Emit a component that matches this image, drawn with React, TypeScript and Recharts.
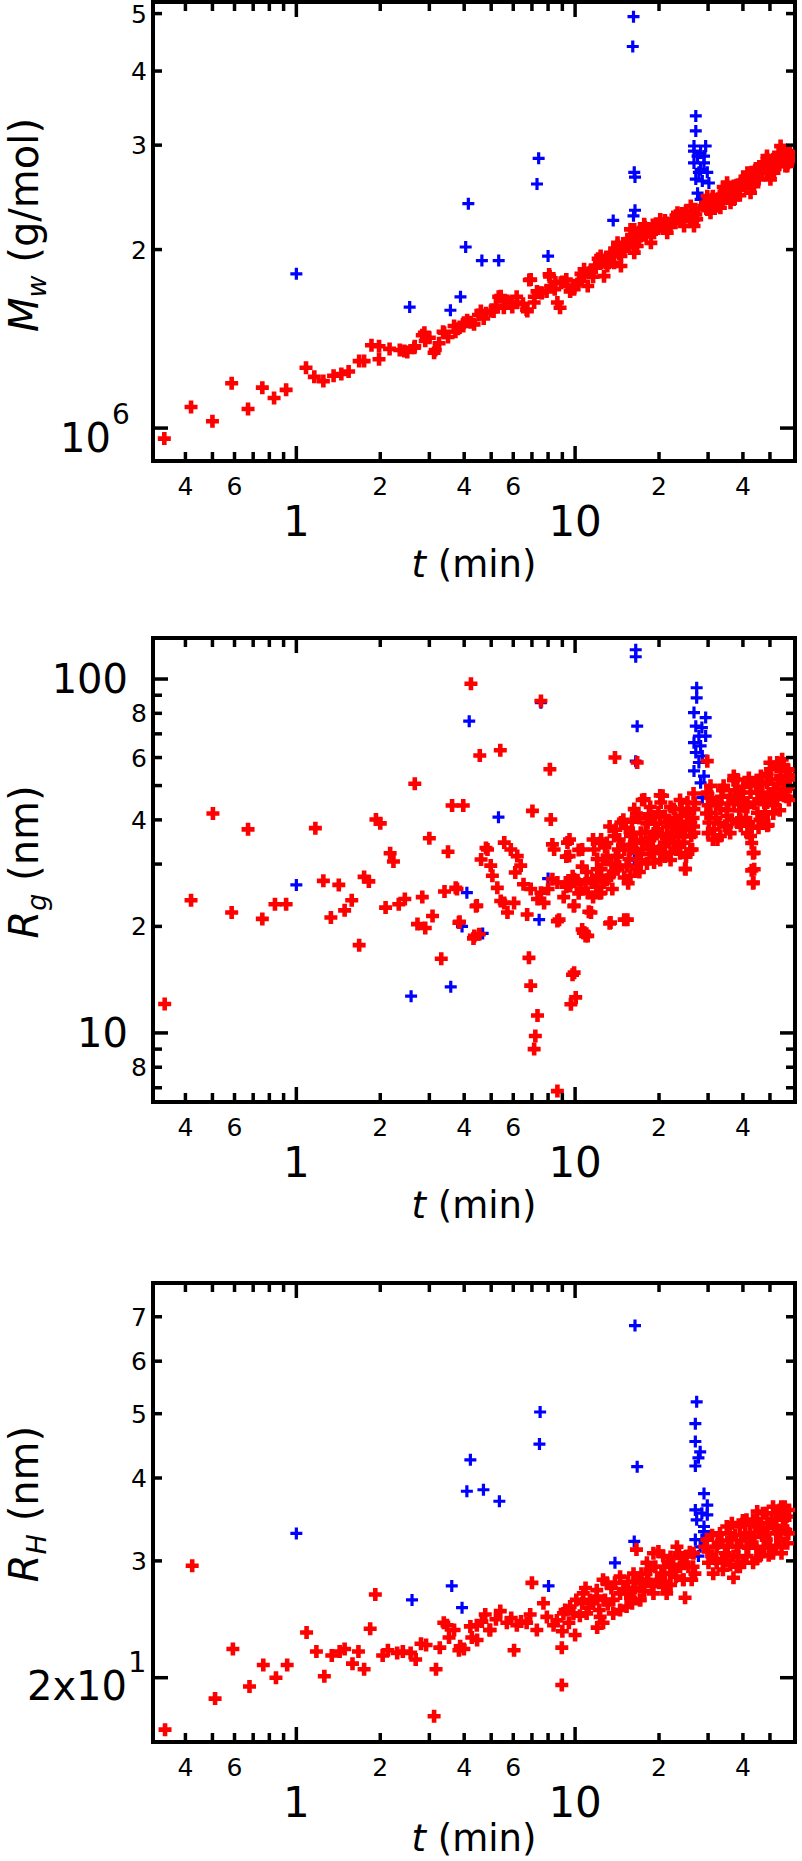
import React from 'react';
import { ScatterChart, Scatter, XAxis, YAxis } from 'recharts';

type Pt = [number, number];

// ---------- shared x axis (time, min) ----------
const xTicks = [0.4, 0.5, 0.6, 0.7, 0.8, 0.9, 1, 2, 3, 4, 5, 6, 7, 8, 9, 10, 20, 30, 40, 50];
const xMajorTicks = [1, 10];
const xSmallLabelTicks = [0.4, 0.6, 2, 4, 6, 20, 40];
const xSmallLabelText = ['4', '6', '2', '4', '6', '2', '4'];
const xDomain: [number, number] = [0.306, 61.5];

// ---------- panel 1 : Mw (in units of 10^6 g/mol) ----------
const mwTicks = [1, 2, 3, 4, 5];
const mwDomain: [number, number] = [0.88, 5.23];
const mwRed: Pt[] = [
  [0.336, 0.96], [0.419, 1.085], [0.5, 1.027], [0.586, 1.19], [0.671, 1.077], [0.755, 1.17], [0.832, 1.124], [0.919, 1.16],
  [1.083, 1.264], [1.16, 1.22], [1.25, 1.2], [1.36, 1.225], [1.45, 1.234], [1.54, 1.246], [1.68, 1.297], [1.75, 1.297],
  [1.98, 1.306], [1.86, 1.379], [1.98, 1.374], [2.16, 1.36], [2.35, 1.354], [2.5, 1.344], [2.66, 1.374], [2.83, 1.434],
  [2.9, 1.403], [3.15, 1.354], [3.36, 1.454], [3.5, 1.424], [3.72, 1.454], [3.97, 1.486], [4.22, 1.508], [4.5, 1.551],
  [4.79, 1.562], [5.1, 1.573], [5.32, 1.665], [5.55, 1.596], [5.91, 1.63], [6.17, 1.665], [6.7, 1.584], [6.85, 1.777],
  [7.14, 1.665], [7.6, 1.69], [8.1, 1.802], [8.45, 1.714], [8.83, 1.596], [9.0, 1.764], [9.8, 1.738],
  [2.44, 1.349], [2.65, 1.366], [2.88, 1.448], [3.12, 1.34], [3.39, 1.448], [3.68, 1.486], [3.99, 1.505], [4.34, 1.496],
  [4.59, 1.575], [4.99, 1.575], [5.41, 1.669], [5.72, 1.638], [6.2, 1.628], [6.74, 1.575], [7.13, 1.628], [7.54, 1.691],
  [8.18, 1.736], [8.88, 1.758], [8.64, 1.628], [9.39, 1.736], [9.92, 1.714], [6.93, 1.78], [8.07, 1.816],
  [9.6, 1.7], [9.3, 1.78], [8.5, 1.76], [7.9, 1.7], [7.3, 1.7], [6.5, 1.62], [5.95, 1.6], [5.2, 1.61],
  [4.7, 1.53], [4.1, 1.52], [3.8, 1.47], [3.25, 1.39], [3.0, 1.42],
  [10.77, 1.804], [11.4, 1.84], [12.35, 1.9], [13.4, 1.975], [13.05, 1.876], [14.2, 2.028], [14.6, 1.951], [15.4, 2.081],
  [16.3, 2.163], [17.2, 2.108], [16.7, 2.028], [18.2, 2.163], [19.2, 2.135], [20.2, 2.19], [21.3, 2.218], [22.4, 2.248],
  [23.9, 2.277], [25.3, 2.277], [26.0, 2.308], [26.7, 2.248], [27.1, 2.292],
  [10.77, 1.852], [12.35, 1.95], [14.2, 2.053], [15.8, 2.163], [17.7, 2.206], [20.2, 2.248], [23.3, 2.307], [26.0, 2.369],
  [11.1, 1.736], [12.7, 1.804], [14.6, 1.876], [16.3, 1.976], [18.7, 2.053], [21.4, 2.135], [24.6, 2.191], [26.7, 2.191],
  [10.2, 1.75], [11.8, 1.88], [12.9, 1.93], [13.8, 1.9], [15.0, 2.0], [16.0, 2.1], [17.5, 2.15], [19.0, 2.2],
  [20.8, 2.17], [22.9, 2.22], [24.2, 2.3], [25.8, 2.24], [27.3, 2.25],
  [10.33, 1.77], [11.22, 1.827], [11.86, 1.864], [12.88, 1.9], [13.61, 1.95], [14.78, 1.989], [15.61, 2.04], [16.96, 2.081],
  [17.92, 2.121], [19.46, 2.163], [20.84, 2.191], [22.33, 2.22], [24.25, 2.263], [25.98, 2.234], [26.7, 2.307],
  [10.5, 1.82], [11.6, 1.8], [12.1, 1.93], [13.2, 1.9], [13.9, 2.0], [14.4, 1.97], [15.2, 2.05], [16.1, 2.05],
  [16.9, 2.14], [17.8, 2.18], [18.5, 2.14], [19.7, 2.19], [21.0, 2.24], [22.0, 2.2], [23.0, 2.28], [24.0, 2.24],
  [25.0, 2.32], [26.4, 2.28], [27.0, 2.34],
  [29.4, 2.399], [29.8, 2.337], [31.0, 2.431], [32.4, 2.367], [33.2, 2.463], [34.6, 2.527], [36.1, 2.495], [37.1, 2.56],
  [39.3, 2.609], [40.8, 2.56], [42.6, 2.66], [43.7, 2.695], [45.5, 2.627], [47.5, 2.748], [48.8, 2.695], [50.1, 2.803],
  [51.5, 2.839], [53.0, 2.767], [54.5, 2.875], [56.0, 2.912], [57.7, 2.839], [56.8, 2.767], [53.7, 2.912], [48.8, 2.839],
  [46.3, 2.695], [29.8, 2.461], [35.1, 2.593], [41.5, 2.696], [48.8, 2.875], [54.6, 2.989], [30.6, 2.307], [36.1, 2.399],
  [42.6, 2.494], [50.2, 2.627], [57.7, 2.766], [31.5, 2.38], [33.8, 2.42], [35.5, 2.47], [38.0, 2.52], [40.0, 2.58],
  [44.0, 2.6], [46.0, 2.7], [52.0, 2.75], [55.0, 2.82], [58.5, 2.87], [59.0, 2.92], [44.5, 2.74], [39.0, 2.47], [34.0, 2.55],
  [29.0, 2.368], [30.2, 2.415], [31.9, 2.43], [33.7, 2.477], [35.6, 2.51], [37.7, 2.543], [39.8, 2.609], [42.0, 2.643],
  [44.4, 2.713], [46.9, 2.748], [49.6, 2.784], [52.4, 2.82], [55.4, 2.875], [58.5, 2.857], [57.7, 2.932], [37.1, 2.43],
  [43.8, 2.559], [51.7, 2.695], [33.2, 2.353],
  [30.0, 2.39], [31.2, 2.46], [32.8, 2.4], [34.2, 2.5], [35.8, 2.44], [36.8, 2.54], [38.5, 2.57], [40.5, 2.62],
  [41.8, 2.58], [43.0, 2.7], [45.0, 2.68], [47.0, 2.7], [48.0, 2.79], [50.5, 2.74], [52.8, 2.86], [54.0, 2.78],
  [56.5, 2.94], [59.5, 2.83], [58.0, 2.8], [45.8, 2.76],
];
const mwBlue: Pt[] = [
  [1.0, 1.82], [2.55, 1.6], [3.57, 1.58], [3.88, 1.665], [4.05, 2.02], [4.14, 2.39], [4.63, 1.916], [5.32, 1.916],
  [7.3, 2.58], [7.4, 2.85], [8.0, 1.95], [13.7, 2.24], [16.2, 4.94], [16.1, 4.4], [16.4, 2.65], [16.3, 2.7],
  [16.4, 2.33], [16.2, 2.28],
  [27.1, 3.36], [27.1, 3.17], [26.7, 2.99], [29.4, 2.99], [27.5, 2.875], [29.0, 2.8], [26.7, 2.8], [28.2, 2.73],
  [29.8, 2.7], [27.1, 2.63], [28.6, 2.61], [30.2, 2.59], [27.5, 2.49], [28.2, 2.43], [28.2, 2.91], [27.8, 2.7],
  [29.0, 2.875], [26.7, 2.93],
];

// ---------- panel 2 : Rg (nm) ----------
const rgTicks = [7, 8, 9, 10, 20, 30, 40, 50, 60, 70, 80, 90, 100];
const rgDomain: [number, number] = [6.38, 130.6];
const rgRed: Pt[] = [
  [0.337, 12.07], [0.419, 23.7], [0.502, 41.7], [0.586, 21.9], [0.671, 37.6], [0.755, 21.0], [0.838, 23.1], [0.919, 23.1],
  [1.17, 37.9], [1.25, 26.9], [1.33, 21.2], [1.42, 26.2], [1.49, 22.2], [1.58, 23.7], [1.68, 17.7], [1.75, 27.6],
  [1.82, 26.8], [1.93, 40.1], [2.0, 39.1], [2.09, 22.6], [2.17, 32.2], [2.23, 30.5], [2.33, 23.1], [2.45, 23.9],
  [2.66, 50.6], [2.72, 20.3], [2.83, 24.2], [2.9, 19.8], [3.0, 35.5], [3.08, 21.4], [3.31, 16.2], [3.4, 25.1],
  [3.5, 32.5], [3.62, 43.9], [3.77, 25.5], [3.85, 20.6], [3.97, 43.9], [4.23, 97.0], [4.41, 22.8], [4.32, 18.5],
  [4.55, 60.8], [4.79, 33.3], [5.39, 62.9],
  [3.73, 25.7], [4.44, 22.9], [4.35, 18.8], [4.53, 19.0], [3.83, 20.5], [4.6, 30.9], [4.85, 33.0], [4.98, 29.7],
  [5.05, 27.8], [5.26, 25.7], [5.57, 34.5], [5.88, 33.0], [6.2, 31.6], [6.38, 29.7], [6.1, 28.4], [5.57, 23.3],
  [5.72, 21.9], [5.41, 23.6], [6.04, 23.3], [6.53, 26.3], [6.93, 25.5], [6.73, 21.6], [7.03, 42.4], [7.54, 86.7],
  [8.12, 55.6], [8.18, 40.1], [8.29, 34.1], [8.41, 33.0], [7.33, 23.9], [7.54, 24.9], [7.74, 23.3], [8.0, 25.5],
  [8.29, 27.2], [8.64, 26.6], [8.76, 20.9], [9.39, 34.5], [9.52, 31.6], [9.26, 26.6], [9.92, 27.2], [9.92, 22.9],
  [10.5, 25.5], [10.6, 33.0], [11.1, 24.9], [11.4, 21.9], [10.8, 19.2], [11.1, 18.8], [10.6, 19.6], [6.83, 16.3],
  [6.93, 13.6], [7.33, 11.2], [7.2, 9.8], [7.13, 9.0], [9.92, 14.8], [9.79, 14.6], [10.05, 12.6], [9.66, 12.05],
  [8.64, 6.85], [8.64, 20.7], [13.4, 20.5], [15.4, 20.9], [13.9, 60.0], [16.7, 58.1], [20.6, 46.8], [24.9, 29.0],
  [29.8, 58.6], [48.9, 38.5], [43.9, 32.3], [43.9, 29.0], [43.6, 26.6], [42.6, 36.0], [42.0, 39.3],
  [11.7, 33.0], [12.4, 35.2], [13.05, 31.6], [13.8, 36.0], [14.2, 29.0], [14.6, 39.3], [15.0, 33.0], [15.4, 29.7],
  [15.8, 36.0], [16.3, 42.9], [16.7, 32.3], [17.2, 36.8], [17.7, 45.7], [18.2, 34.5], [18.7, 41.0], [19.2, 30.3],
  [19.8, 37.6], [20.3, 44.8], [20.9, 34.5], [21.4, 39.3], [22.0, 32.3], [22.6, 42.9], [23.3, 36.8], [23.9, 41.0],
  [24.6, 34.5], [25.3, 44.8], [26.0, 39.3], [26.7, 42.9], [26.3, 33.0], [12.4, 29.0], [13.3, 27.8], [14.2, 31.6],
  [15.8, 27.8], [17.2, 30.3], [16.3, 34.5], [18.2, 39.3], [19.2, 36.0], [20.3, 33.0], [21.4, 36.0], [22.6, 34.5],
  [23.9, 37.6], [25.3, 39.3], [26.7, 36.8], [12.0, 29.0], [12.7, 26.6], [11.5, 27.2], [12.4, 24.9],
  [9.3, 25.9], [9.8, 27.7], [10.3, 24.8], [10.9, 26.5], [11.6, 24.2], [11.9, 25.9], [12.3, 27.7], [12.6, 30.8],
  [13.0, 34.4], [13.3, 38.3], [13.7, 28.3], [14.0, 31.5], [14.4, 35.2], [14.9, 40.0], [15.3, 29.6], [15.7, 32.9],
  [16.1, 36.7], [16.6, 41.7], [17.1, 30.8], [17.6, 34.4], [18.1, 39.1], [18.6, 43.5], [19.1, 32.2], [19.6, 36.7],
  [20.2, 40.8], [20.8, 33.7], [21.4, 38.3], [22.0, 43.5], [22.6, 34.4], [23.1, 39.1], [23.8, 45.5], [24.5, 35.9],
  [25.2, 41.7], [25.9, 32.9], [26.6, 38.3], [26.9, 44.6], [26.6, 47.5], [12.3, 34.4], [11.6, 35.2], [9.55, 35.2],
  [9.3, 31.5], [10.3, 32.9], [17.4, 45.5], [20.2, 46.9], [24.8, 29.1], [15.5, 26.5], [9.9, 22.8], [11.2, 22.0],
  [13.3, 20.4], [15.0, 20.9], [10.7, 19.2], [10.9, 18.8], [13.0, 27.1], [14.4, 29.6], [16.6, 29.1], [22.0, 30.8],
  [23.8, 32.2], [20.2, 30.8], [18.1, 30.1], [9.1, 24.2], [12.3, 24.8],
  [12.0, 31.0], [12.8, 33.5], [13.5, 30.0], [14.0, 37.5], [14.8, 34.0], [15.2, 38.0], [15.6, 31.0], [16.0, 39.5],
  [16.5, 35.0], [17.0, 40.5], [17.4, 33.0], [17.9, 37.0], [18.4, 41.5], [18.9, 35.5], [19.4, 39.0], [19.9, 42.0],
  [20.5, 36.5], [21.0, 41.0], [21.7, 35.0], [22.3, 38.5], [22.9, 40.5], [23.5, 34.0], [24.1, 43.0], [24.8, 37.5],
  [25.5, 42.0], [26.1, 36.0], [26.5, 40.5], [25.0, 31.5], [23.0, 33.0], [21.0, 31.5], [19.0, 33.5], [17.0, 28.5],
  [15.0, 27.5], [13.6, 25.5], [11.0, 28.5], [10.2, 27.0], [9.6, 26.0], [10.6, 29.5], [14.3, 33.0], [18.5, 32.0],
  [22.0, 36.0], [24.0, 39.5],
  [29.8, 47.8], [30.6, 41.9], [31.5, 37.6], [32.4, 44.8], [33.2, 36.0], [34.1, 49.9], [35.1, 41.0], [36.1, 46.8],
  [37.1, 53.2], [38.2, 39.3], [39.3, 47.8], [40.4, 43.7], [41.5, 50.9], [45.1, 47.8], [46.4, 53.2], [47.7, 44.8],
  [48.9, 50.9], [50.2, 55.6], [51.7, 48.8], [53.1, 58.1], [54.6, 53.2], [56.1, 46.8], [57.7, 55.6], [56.9, 50.9],
  [55.3, 59.3], [48.9, 44.8], [53.1, 45.8], [30.6, 49.9], [33.2, 42.9], [37.1, 44.8], [41.5, 44.8], [45.1, 41.9],
  [38.2, 52.0], [42.6, 47.8], [46.4, 47.8], [39.3, 38.5], [32.4, 35.2], [30.2, 39.3], [58.5, 52.0],
  [29.6, 47.5], [29.6, 41.7], [30.0, 36.7], [31.2, 35.2], [32.0, 44.6], [32.9, 39.1], [33.8, 48.5], [35.0, 42.6],
  [36.0, 36.7], [37.0, 51.8], [38.1, 45.5], [39.2, 40.0], [40.1, 49.6], [41.5, 43.5], [43.0, 38.3], [43.0, 34.4],
  [43.5, 32.2], [43.0, 28.8], [43.5, 26.5], [45.0, 51.8], [46.0, 45.5], [47.4, 40.8], [48.8, 54.0], [49.3, 38.7],
  [51.4, 47.5], [52.8, 56.4], [54.2, 42.6], [55.6, 51.8], [57.3, 46.5], [58.1, 55.4], [59.0, 49.6], [35.0, 38.3],
  [39.2, 45.5], [46.0, 40.0], [51.4, 41.7], [41.5, 36.7],
  [30.0, 44.0], [31.0, 46.0], [32.0, 40.5], [33.5, 46.5], [34.5, 38.5], [35.5, 44.5], [36.5, 40.0], [37.5, 48.5],
  [38.8, 42.5], [40.0, 46.0], [41.0, 40.5], [42.0, 52.5], [44.0, 44.5], [44.5, 50.0], [45.5, 38.0], [47.0, 50.5],
  [48.0, 42.0], [49.5, 47.0], [50.5, 52.0], [52.0, 44.0], [53.5, 50.5], [55.0, 47.5], [56.0, 56.5], [57.5, 49.0],
  [58.5, 45.5], [59.0, 53.5], [54.0, 57.0], [50.0, 58.0],
];
const rgBlue: Pt[] = [
  [1.0, 26.2], [2.58, 12.7], [3.58, 13.5], [4.17, 76.0], [4.09, 24.9], [3.93, 20.0], [4.66, 19.1], [5.31, 40.7],
  [7.43, 20.9], [8.0, 27.3], [7.54, 85.7], [16.5, 121], [16.5, 115.6], [16.7, 73.6], [16.5, 58.6], [16.3, 30.8],
  [27.3, 94.5], [27.3, 88.5], [26.7, 80.4], [29.4, 77.8], [27.1, 73.6], [28.5, 72.9], [27.8, 69.0], [29.4, 69.0],
  [26.7, 66.1], [28.2, 64.7], [27.1, 62.0], [28.6, 60.6], [26.7, 55.0], [29.0, 53.2], [28.2, 50.9], [28.6, 46.2],
  [27.8, 58.1],
];

// ---------- panel 3 : RH (nm) ----------
const rhTicks = [20, 30, 40, 50, 60, 70];
const rhDomain: [number, number] = [16.0, 78.7];
const rhRed: Pt[] = [
  [0.338, 16.7], [0.423, 29.5], [0.511, 18.6], [0.592, 22.1], [0.679, 19.4], [0.761, 20.9], [0.845, 20.0], [0.927, 20.9],
  [1.088, 23.4], [1.18, 21.9], [1.26, 20.1], [1.34, 21.6], [1.43, 21.9], [1.49, 22.1], [1.59, 21.0], [1.67, 21.9],
  [1.75, 20.6], [1.84, 23.7], [1.92, 26.7], [2.04, 21.6], [2.13, 22.0], [2.3, 21.8], [2.41, 21.9], [2.57, 21.8],
  [2.68, 21.3], [2.8, 22.5], [2.92, 22.4], [3.12, 17.5], [3.17, 20.6], [3.27, 22.2], [3.38, 24.2], [3.53, 23.0],
  [3.68, 23.6], [3.83, 22.0], [3.99, 22.1], [4.26, 23.0], [4.44, 24.0], [4.63, 24.3], [4.93, 23.6], [5.39, 25.2],
  [6.04, 22.0],
  [3.47, 24.0], [3.87, 22.3], [4.21, 23.9], [4.45, 22.8], [4.76, 24.9], [4.96, 23.6], [5.69, 24.2], [6.18, 24.0],
  [6.7, 24.2], [7.0, 27.8], [7.29, 23.6], [7.7, 25.9], [7.92, 24.7], [8.96, 22.2], [8.96, 19.5], [8.37, 24.0],
  [9.08, 25.0], [9.6, 25.6], [10.1, 26.2], [10.7, 26.8], [11.0, 25.0], [11.3, 26.2], [11.96, 27.1], [12.6, 24.2],
  [12.99, 27.8], [13.7, 26.2], [14.5, 28.4], [15.3, 27.1], [16.2, 28.7], [16.6, 31.2], [17.1, 27.8], [18.1, 29.8],
  [19.1, 30.8], [20.2, 28.1], [20.7, 30.5], [21.9, 28.7], [23.2, 31.5], [23.8, 29.4], [25.1, 30.5], [24.8, 26.4],
  [26.5, 29.4], [24.5, 28.1], [21.3, 26.8], [19.1, 26.8], [17.1, 26.2], [15.3, 25.6], [13.7, 25.0], [12.3, 24.7],
  [16.2, 27.1], [18.1, 28.1], [22.5, 29.6], [5.2, 24.5], [5.9, 24.6], [6.4, 24.3], [6.9, 24.9],
  [8.6, 24.4], [9.21, 25.3], [9.86, 25.0], [10.6, 25.9], [11.2, 25.5], [11.96, 26.5], [12.8, 26.2], [13.5, 27.3],
  [14.5, 26.8], [15.5, 27.9], [16.4, 27.3], [17.3, 28.7], [18.3, 27.9], [19.4, 29.4], [20.4, 28.7], [21.6, 29.9],
  [22.8, 29.1], [24.1, 30.3], [25.5, 29.4], [26.6, 30.8], [26.9, 28.7], [14.5, 25.3], [17.1, 26.2], [20.7, 27.4],
  [24.4, 28.1], [12.6, 28.1],
  [9.0, 23.5], [9.5, 24.2], [10.4, 24.8], [10.9, 27.3], [11.6, 25.9], [12.2, 25.3], [13.1, 25.8], [13.9, 27.8],
  [14.9, 27.2], [15.8, 26.4], [16.8, 28.2], [17.7, 27.0], [18.6, 29.1], [19.7, 28.0], [20.9, 29.4], [22.0, 30.4],
  [23.0, 28.4], [24.6, 29.7], [25.8, 30.9], [26.2, 28.1], [22.0, 27.6], [18.9, 27.5], [16.0, 25.9], [12.0, 23.8],
  [10.0, 23.2], [19.9, 31.0], [23.6, 30.8], [21.0, 27.9],
  [29.7, 32.3], [30.1, 29.8], [31.3, 28.7], [32.2, 31.5], [33.1, 33.0], [34.9, 30.5], [35.9, 33.0], [37.0, 28.3],
  [38.0, 31.5], [39.0, 33.8], [41.2, 30.5], [42.3, 33.0], [43.5, 34.6], [44.7, 31.5], [45.9, 33.4], [47.2, 35.4],
  [48.5, 32.3], [49.9, 34.2], [51.3, 36.2], [52.7, 33.0], [54.2, 35.8], [55.7, 33.8], [57.3, 35.0], [55.7, 31.9],
  [51.3, 30.8], [43.5, 29.8], [38.0, 29.4], [32.2, 29.8], [37.0, 30.5], [41.2, 32.3], [47.2, 33.0], [52.7, 34.6],
  [56.5, 36.2],
  [29.2, 31.5], [30.9, 30.5], [32.6, 31.9], [34.5, 30.8], [36.4, 32.5], [38.5, 31.5], [40.7, 33.0], [43.0, 31.9],
  [45.4, 33.8], [48.0, 32.7], [50.7, 34.6], [53.6, 33.4], [56.6, 34.6], [58.2, 33.0], [54.9, 36.2], [48.6, 35.4],
  [41.2, 34.6], [35.0, 33.8], [39.0, 29.4], [46.0, 30.5], [33.9, 29.1], [52.7, 31.5], [57.7, 31.9],
  [30.0, 31.0], [31.0, 32.8], [32.0, 30.2], [33.5, 32.2], [34.0, 29.8], [35.3, 31.6], [36.0, 29.6], [37.5, 32.8],
  [38.5, 30.4], [39.5, 32.2], [40.0, 29.8], [41.8, 31.4], [42.5, 34.0], [44.0, 32.6], [44.8, 30.2], [46.5, 34.2],
  [47.5, 31.4], [49.0, 33.6], [50.0, 31.6], [51.8, 33.8], [53.0, 35.4], [54.5, 32.4], [56.0, 35.0], [57.0, 33.4],
  [58.5, 35.8], [55.0, 30.8], [49.5, 30.6], [45.0, 35.6], [40.0, 34.5], [36.5, 34.2],
];
const rhBlue: Pt[] = [
  [1.0, 33.0], [2.6, 26.2], [3.61, 27.5], [3.93, 25.5], [4.21, 42.6], [4.09, 38.2], [4.69, 38.4], [5.35, 36.9],
  [7.49, 50.3], [7.45, 45.0], [8.03, 27.5], [13.9, 29.8], [16.4, 67.9], [16.7, 41.6], [16.3, 32.1],
  [27.3, 52.1], [27.0, 48.3], [27.0, 45.4], [28.1, 43.8], [27.7, 42.9], [27.0, 41.7], [29.0, 37.9], [29.8, 36.4],
  [27.0, 35.8], [28.5, 35.4], [29.8, 35.2], [27.3, 34.6], [29.0, 33.8], [27.0, 32.3], [28.5, 32.3], [28.1, 31.5],
  [27.7, 30.5], [29.0, 33.2],
];

// ---------- layout ----------
const W = 802;
const PL = 153;
const PR = 795;
const PT = 2;
const FONT = '"DejaVu Sans", sans-serif';
const AXIS = { stroke: '#000', strokeWidth: 4, strokeLinecap: 'square' as const };

function Plus(props: any) {
  const { cx, cy, color, sw, r } = props;
  if (cx == null || cy == null || !isFinite(cx) || !isFinite(cy)) return <g />;
  return (
    <path d={`M${cx - r},${cy}H${cx + r}M${cx},${cy - r}V${cy + r}`} stroke={color} strokeWidth={sw} fill="none" />
  );
}

function XTickBottom(props: any) {
  const { x, payload, plotBottom } = props;
  const v = payload.value;
  const major = xMajorTicks.includes(v);
  const si = xSmallLabelTicks.indexOf(v);
  const len = major ? 15 : 9;
  return (
    <g>
      <line x1={x} x2={x} y1={plotBottom} y2={plotBottom - len} stroke="#000" strokeWidth={3.5} />
      {major && (
        <text x={x} y={plotBottom + 75} textAnchor="middle" fontSize={42} fill="#000" fontFamily={FONT}>
          {String(v)}
        </text>
      )}
      {si >= 0 && (
        <text x={x} y={plotBottom + 34} textAnchor="middle" fontSize={25} fill="#000" fontFamily={FONT}>
          {xSmallLabelText[si]}
        </text>
      )}
    </g>
  );
}

function XTickTop(props: any) {
  const { x, payload } = props;
  const v = payload.value;
  const len = xMajorTicks.includes(v) ? 15 : 9;
  return <line x1={x} x2={x} y1={PT} y2={PT + len} stroke="#000" strokeWidth={3.5} />;
}

function YTickLeft(props: any) {
  const { y, payload, majors, labelFn } = props;
  const v = payload.value;
  const len = majors.includes(v) ? 15 : 9;
  return (
    <g>
      <line x1={PL} x2={PL + len} y1={y} y2={y} stroke="#000" strokeWidth={3.5} />
      {labelFn(v, y)}
    </g>
  );
}

function YTickRight(props: any) {
  const { y, payload, majors } = props;
  const v = payload.value;
  const len = majors.includes(v) ? 15 : 9;
  return <line x1={PR} x2={PR - len} y1={y} y2={y} stroke="#000" strokeWidth={3.5} />;
}

const smallY = (txt: string, y: number) => (
  <text x={PL - 6} y={y + 9} textAnchor="end" fontSize={25} fill="#000" fontFamily={FONT}>
    {txt}
  </text>
);

const mwLabel = (v: number, y: number) => {
  if (v === 1) {
    return (
      <g>
        <text x={111} y={y + 24} textAnchor="end" fontSize={40} fill="#000" fontFamily={FONT}>10</text>
        <text x={112} y={y - 4} textAnchor="start" fontSize={28} fill="#000" fontFamily={FONT}>6</text>
      </g>
    );
  }
  return smallY(String(v), y);
};

const rgLabel = (v: number, y: number) => {
  if (v === 10 || v === 100) {
    return (
      <text x={128} y={y + 14} textAnchor="end" fontSize={40} fill="#000" fontFamily={FONT}>
        {String(v)}
      </text>
    );
  }
  if (v === 8) return smallY('8', y);
  if (v === 20 || v === 40 || v === 60 || v === 80) return smallY(String(v / 10), y);
  return <g />;
};

const rhLabel = (v: number, y: number) => {
  if (v === 20) {
    return (
      <g>
        <text x={127} y={y + 22} textAnchor="end" fontSize={40} fill="#000" fontFamily={FONT}>2x10</text>
        <text x={128} y={y - 6} textAnchor="start" fontSize={29} fill="#000" fontFamily={FONT}>1</text>
      </g>
    );
  }
  return smallY(String(v / 10), y);
};

type PanelProps = {
  top: number;
  height: number;
  plotBottom: number;
  yDomain: [number, number];
  yTicks: number[];
  yMajors: number[];
  labelFn: (v: number, y: number) => React.ReactNode;
  red: Pt[];
  blue: Pt[];
  scaleY: number;
};

function Panel(p: PanelProps) {
  const redData = p.red.map(([x, y]) => ({ x, y: y * p.scaleY }));
  const blueData = p.blue.map(([x, y]) => ({ x, y: y * p.scaleY }));
  const dom: [number, number] = [p.yDomain[0] * p.scaleY, p.yDomain[1] * p.scaleY];
  const ticks = p.yTicks.map((t) => t * p.scaleY);
  const majors = p.yMajors.map((t) => t * p.scaleY);
  const lf = (v: number, y: number) => p.labelFn(v / p.scaleY, y);
  return (
    <div style={{ position: 'absolute', left: 0, top: p.top, width: W, height: p.height }}>
      <ScatterChart
        width={W}
        height={p.height}
        margin={{ top: PT - 1, right: W - PR - 1, bottom: p.height - p.plotBottom - 1, left: PL - 1 }}
      >
        <XAxis
          xAxisId="b"
          type="number"
          dataKey="x"
          scale="log"
          domain={xDomain}
          allowDataOverflow
          ticks={xTicks}
          interval={0}
          height={1}
          tickSize={0}
          tickMargin={0}
          tickLine={false}
          axisLine={AXIS}
          tick={(tp: any) => <XTickBottom {...tp} plotBottom={p.plotBottom} />}
        />
        <XAxis
          xAxisId="t"
          orientation="top"
          type="number"
          dataKey="x"
          scale="log"
          domain={xDomain}
          allowDataOverflow
          ticks={xTicks}
          interval={0}
          height={1}
          tickSize={0}
          tickMargin={0}
          tickLine={false}
          axisLine={AXIS}
          tick={(tp: any) => <XTickTop {...tp} />}
        />
        <YAxis
          yAxisId="l"
          type="number"
          dataKey="y"
          scale="log"
          domain={dom}
          allowDataOverflow
          ticks={ticks}
          interval={0}
          width={1}
          tickSize={0}
          tickMargin={0}
          tickLine={false}
          axisLine={AXIS}
          tick={(tp: any) => <YTickLeft {...tp} majors={majors} labelFn={lf} />}
        />
        <YAxis
          yAxisId="r"
          orientation="right"
          type="number"
          dataKey="y"
          scale="log"
          domain={dom}
          allowDataOverflow
          ticks={ticks}
          interval={0}
          width={1}
          tickSize={0}
          tickMargin={0}
          tickLine={false}
          axisLine={AXIS}
          tick={(tp: any) => <YTickRight {...tp} majors={majors} />}
        />
        <Scatter
          xAxisId="b"
          yAxisId="l"
          data={blueData}
          isAnimationActive={false}
          shape={(sp: any) => <Plus cx={sp.cx} cy={sp.cy} color="#0000ff" sw={3.2} r={6} />}
        />
        <Scatter
          xAxisId="b"
          yAxisId="l"
          data={redData}
          isAnimationActive={false}
          shape={(sp: any) => <Plus cx={sp.cx} cy={sp.cy} color="#ff0000" sw={4.6} r={6.5} />}
        />
      </ScatterChart>
    </div>
  );
}

function XTitle({ y }: { y: number }) {
  return (
    <text x={(PL + PR) / 2} y={y} textAnchor="middle" fontSize={37} fill="#000" fontFamily={FONT}>
      <tspan fontStyle="italic">t</tspan> (min)
    </text>
  );
}

function YTitle({ cy, main, sub, unit }: { cy: number; main: string; sub: string; unit: string }) {
  const x = 38;
  return (
    <text
      x={x}
      y={cy}
      transform={`rotate(-90 ${x} ${cy})`}
      textAnchor="middle"
      fontSize={40}
      fill="#000"
      fontFamily={FONT}
    >
      <tspan fontStyle="italic">{main}</tspan>
      <tspan fontStyle="italic" fontSize={27} dy={8}>{sub}</tspan>
      <tspan dy={-8}>{' ' + unit}</tspan>
    </text>
  );
}

export default function App() {
  return (
    <div
      style={{
        position: 'absolute',
        left: 0,
        top: 0,
        width: W,
        height: 1861,
        overflow: 'hidden',
        background: '#fff',
        fontFamily: FONT,
      }}
    >
      <Panel
        top={0}
        height={636}
        plotBottom={461}
        yDomain={mwDomain}
        yTicks={mwTicks}
        yMajors={[1]}
        labelFn={mwLabel}
        red={mwRed}
        blue={mwBlue}
        scaleY={1e6}
      />
      <Panel
        top={636}
        height={645}
        plotBottom={466}
        yDomain={rgDomain}
        yTicks={rgTicks}
        yMajors={[10, 100]}
        labelFn={rgLabel}
        red={rgRed}
        blue={rgBlue}
        scaleY={1}
      />
      <Panel
        top={1281}
        height={580}
        plotBottom={461}
        yDomain={rhDomain}
        yTicks={rhTicks}
        yMajors={[20]}
        labelFn={rhLabel}
        red={rhRed}
        blue={rhBlue}
        scaleY={1}
      />
      <svg
        width={W}
        height={1861}
        style={{ position: 'absolute', left: 0, top: 0, pointerEvents: 'none' }}
      >
        <XTitle y={461 + 116} />
        <XTitle y={1102 + 116} />
        <XTitle y={1851} />
        <YTitle cy={225} main="M" sub="w" unit="(g/mol)" />
        <YTitle cy={862} main="R" sub="g" unit="(nm)" />
        <YTitle cy={1504} main="R" sub="H" unit="(nm)" />
      </svg>
    </div>
  );
}
